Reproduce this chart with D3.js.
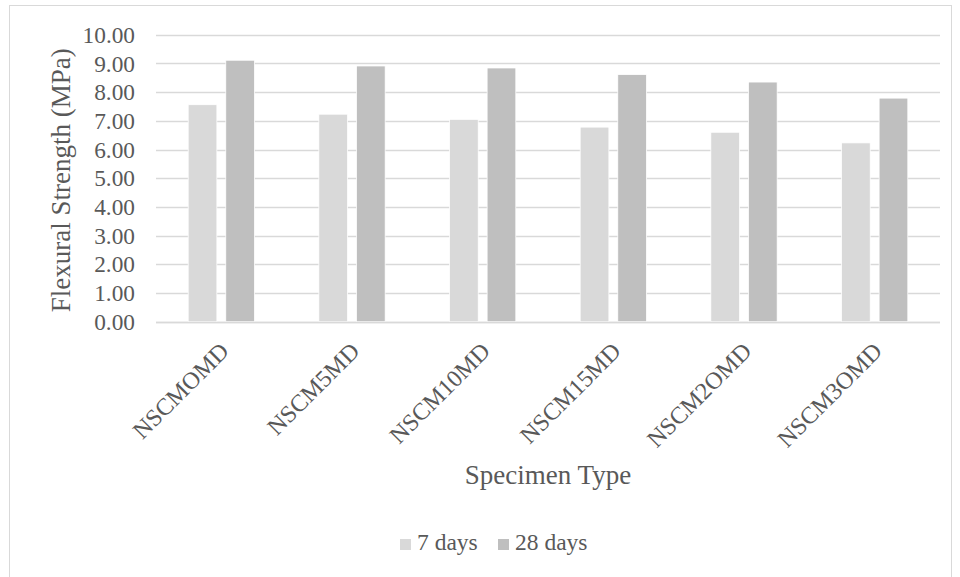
<!DOCTYPE html>
<html>
<head>
<meta charset="utf-8">
<script src="https://cdn.jsdelivr.net/npm/d3@7"></script>
<style>
  body { margin: 0; background: #fff; }
  svg { display: block; }
</style>
</head>
<body>
<svg id="main-svg" width="960" height="577"></svg>
<script>
// chart data
const categories = ["NSCMOMD", "NSCM5MD", "NSCM10MD", "NSCM15MD", "NSCM2OMD", "NSCM3OMD"];
const seriesNames = ["7 days", "28 days"];
const days7 = [7.56, 7.23, 7.05, 6.78, 6.60, 6.23];
const days28 = [9.11, 8.91, 8.84, 8.61, 8.35, 7.79];
const yTicks = [0, 1, 2, 3, 4, 5, 6, 7, 8, 9, 10];

const colors = { "7 days": "#d9d9d9", "28 days": "#bfbfbf" };
const textColor = "#595959";
const fontFamily = "'Liberation Serif', 'Times New Roman', serif";

const svg = d3.select("#main-svg");

// outer chart border
svg.append("rect")
    .attr("x", 9.5)
    .attr("y", 5.5)
    .attr("width", 942)
    .attr("height", 600)
    .attr("fill", "none")
    .attr("stroke", "#d9d9d9")
    .attr("stroke-width", 1);

const plot = { left: 156, right: 940, top: 34.7, bottom: 321.7 };

const x0 = d3.scaleBand()
    .domain(categories)
    .range([plot.left, plot.right]);

const x1 = d3.scaleBand()
    .domain(seriesNames)
    .range([0, x0.bandwidth()])
    .paddingInner(0.237)
    .paddingOuter(0.856);

const y = d3.scaleLinear()
    .domain([0, 10])
    .range([plot.bottom, plot.top]);

// gridlines
svg.append("g")
    .selectAll("line")
    .data(yTicks)
    .enter()
    .append("line")
    .attr("x1", plot.left)
    .attr("x2", plot.right)
    .attr("y1", d => Math.round(y(d)) + 0.5)
    .attr("y2", d => Math.round(y(d)) + 0.5)
    .attr("stroke", "#d9d9d9")
    .attr("stroke-width", 1.5);

// y tick labels
svg.append("g")
    .selectAll("text")
    .data(yTicks)
    .enter()
    .append("text")
    .attr("x", 135)
    .attr("y", d => y(d))
    .attr("dy", "0.35em")
    .attr("text-anchor", "end")
    .attr("font-family", fontFamily)
    .attr("font-size", "23.3px")
    .attr("fill", textColor)
    .text(d => d.toFixed(2));

// bars
const rows = categories.map((c, i) => ({ cat: c, values: [
    { key: "7 days", value: days7[i] },
    { key: "28 days", value: days28[i] }
] }));

const groups = svg.append("g")
    .selectAll("g")
    .data(rows)
    .enter()
    .append("g")
    .attr("transform", d => `translate(${x0(d.cat)},0)`);

groups.selectAll("rect")
    .data(d => d.values)
    .enter()
    .append("rect")
    .attr("x", d => x1(d.key))
    .attr("y", d => y(d.value))
    .attr("width", x1.bandwidth())
    .attr("height", d => y(0) - y(d.value))
    .attr("fill", d => colors[d.key])
    .attr("stroke", "#ffffff")
    .attr("stroke-width", 0.75);

// x axis line
svg.append("line")
    .attr("x1", plot.left)
    .attr("x2", plot.right)
    .attr("y1", Math.round(y(0)) + 0.5)
    .attr("y2", Math.round(y(0)) + 0.5)
    .attr("stroke", "#d9d9d9")
    .attr("stroke-width", 1.5);

// x labels, rotated -45
svg.append("g")
    .selectAll("text")
    .data(categories)
    .enter()
    .append("text")
    .attr("transform", d => `translate(${x0(d) + x0.bandwidth() / 2 - 3},${plot.bottom + 19}) rotate(-45)`)
    .attr("text-anchor", "end")
    .attr("dy", "0.7em")
    .attr("font-family", fontFamily)
    .attr("font-size", "24px")
    .attr("fill", textColor)
    .text(d => d);

// axis titles
svg.append("text")
    .attr("x", (plot.left + plot.right) / 2)
    .attr("y", 484)
    .attr("text-anchor", "middle")
    .attr("font-family", fontFamily)
    .attr("font-size", "27px")
    .attr("fill", textColor)
    .text("Specimen Type");

svg.append("text")
    .attr("transform", `translate(70,${(plot.top + plot.bottom) / 2 + 2}) rotate(-90)`)
    .attr("text-anchor", "middle")
    .attr("font-family", fontFamily)
    .attr("font-size", "27px")
    .attr("fill", textColor)
    .text("Flexural Strength (MPa)");

// legend
const legendX = [400, 498];
const legend = svg.append("g")
    .selectAll("g")
    .data(seriesNames)
    .enter()
    .append("g")
    .attr("transform", (d, i) => `translate(${legendX[i]},539)`);

legend.append("rect")
    .attr("width", 11)
    .attr("height", 11)
    .attr("fill", d => colors[d]);

legend.append("text")
    .attr("x", 17)
    .attr("y", 11)
    .attr("font-family", fontFamily)
    .attr("font-size", "23.5px")
    .attr("fill", textColor)
    .text(d => d);
</script>
</body>
</html>
